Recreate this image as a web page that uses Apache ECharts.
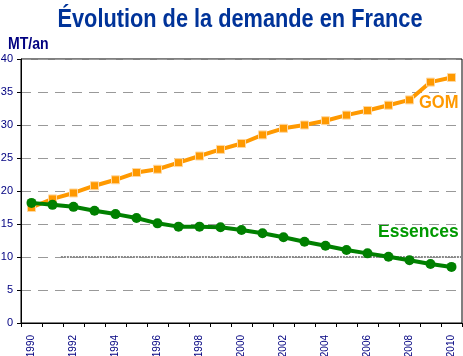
<!DOCTYPE html>
<html><head><meta charset="utf-8">
<script src="https://cdn.jsdelivr.net/npm/echarts@6/dist/echarts.min.js"></script>
<style>html,body{margin:0;padding:0;background:#fff}#c{width:463px;height:356px}</style>
</head><body><div id="c"></div>
<script>
const years = ['1990','1991','1992','1993','1994','1995','1996','1997','1998','1999','2000','2001','2002','2003','2004','2005','2006','2007','2008','2009','2010'];
const gom = [17.5,18.8,19.7,20.8,21.7,22.8,23.3,24.3,25.3,26.3,27.2,28.5,29.5,30.0,30.65,31.5,32.2,33.0,33.8,36.5,37.2];
const essences = [18.2,17.9,17.6,17.0,16.5,15.9,15.1,14.6,14.6,14.5,14.1,13.6,13.0,12.3,11.7,11.06,10.55,10.05,9.5,8.94,8.5];
const refLine = [[1991.4,10],[2010.5,10]];
const yTicks = [0,5,10,15,20,25,30,35,40];

const chart = echarts.init(document.getElementById('c'));
chart.setOption({
  animation:false,
  grid:{left:21,right:1,top:59,bottom:33,show:true,borderColor:'#000',borderWidth:1,containLabel:false,outerBoundsMode:'none'},
  xAxis:[{type:'category',data:years,boundaryGap:true,
    axisLine:{lineStyle:{color:'#000'}},
    axisTick:{show:true,alignWithLabel:false,interval:0,length:4,lineStyle:{color:'#000'}},
    axisLabel:{rotate:90,interval:1,color:'#000080',fontSize:10,fontFamily:'Liberation Sans',margin:12},
    splitLine:{show:false}},
   {type:'value',min:1989.5,max:2010.5,show:false}],
  yAxis:{type:'value',min:0,max:40,interval:5,
    axisLine:{show:true,lineStyle:{color:'#000'}},axisTick:{show:true,length:4,lineStyle:{color:'#000'}},
    axisLabel:{color:'#000080',fontSize:11,fontFamily:'Liberation Sans',margin:8,
      formatter:v=>yTicks.includes(v)?String(v):''},
    splitLine:{show:true,lineStyle:{color:'#999',type:[10,7],width:1}}},
  series:[
    {type:'line',xAxisIndex:1,data:refLine,symbol:'none',silent:true,
      lineStyle:{color:'#888',width:2,type:[2,1]},z:1},
    {type:'line',name:'GOM',data:gom,symbol:'rect',symbolSize:8,
      lineStyle:{color:'#ff9900',width:4},
      itemStyle:{color:'#ff9900',borderColor:'#ffd8a0',borderWidth:1},z:3},
    {type:'line',name:'Essences',data:essences,symbol:'circle',symbolSize:10,
      lineStyle:{color:'#008000',width:4},
      itemStyle:{color:'#008000'},z:4}
  ],
  graphic:[
    {type:'text',x:240,y:8,scaleX:0.87,originX:0,style:{text:'Évolution de la demande en France',fill:'#003399',textAlign:'center',font:'bold 25px "Liberation Sans"'}},
    {type:'text',x:8,y:37,scaleX:0.88,style:{text:'MT/an',fill:'#000080',font:'bold 16px "Liberation Sans"'}},
    {type:'text',x:419,y:93,scaleX:0.87,style:{text:'GOM',fill:'#ff9900',font:'bold 19px "Liberation Sans"'}},
    {type:'text',x:378,y:222,scaleX:0.92,style:{text:'Essences',fill:'#009900',font:'bold 19px "Liberation Sans"'}}
  ]
});
</script></body></html>
